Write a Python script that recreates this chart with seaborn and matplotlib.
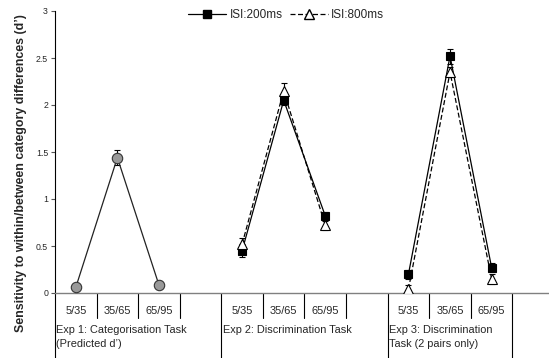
import pandas as pd
import seaborn as sns
import matplotlib.pyplot as plt
from matplotlib.lines import Line2D

# values
pairs = ['5/35', '35/65', '65/95']
group_labels = ['Exp 1: Categorisation Task\n(Predicted d\u2019)',
                'Exp 2: Discrimination Task',
                'Exp 3: Discrimination\nTask (2 pairs only)']

exp1_pred = [0.06, 1.44, 0.085]
exp1_err = [0.0, 0.08, 0.0]

exp2_isi200 = [0.45, 2.05, 0.82]
exp2_isi200_err = [0.07, 0.05, 0.04]
exp2_isi800 = [0.52, 2.15, 0.72]
exp2_isi800_err = [0.07, 0.08, 0.05]

exp3_isi200 = [0.20, 2.52, 0.27]
exp3_isi200_err = [0.05, 0.08, 0.05]
exp3_isi800 = [0.04, 2.35, 0.15]
exp3_isi800_err = [0.05, 0.05, 0.05]

rows = []
def add(group, series, vals, errs):
    for i, (v, e) in enumerate(zip(vals, errs)):
        rows.append({'group': group, 'series': series, 'pair': pairs[i],
                     'x': 4 * group + i + 0.5, 'd': v, 'err': e})

add(0, 'pred', exp1_pred, exp1_err)
add(1, 'ISI:200ms', exp2_isi200, exp2_isi200_err)
add(1, 'ISI:800ms', exp2_isi800, exp2_isi800_err)
add(2, 'ISI:200ms', exp3_isi200, exp3_isi200_err)
add(2, 'ISI:800ms', exp3_isi800, exp3_isi800_err)
df = pd.DataFrame(rows)

sns.set_style('ticks')
plt.rcParams['font.family'] = ['Liberation Sans', 'DejaVu Sans']

fig = plt.figure(figsize=(5.49, 3.58), dpi=100)
ax = fig.add_axes([55 / 549, 65 / 358, 494 / 549, 282 / 358])

styles = {
    'pred': dict(color='#222222', marker='o', markerfacecolor='#999999',
                 markeredgecolor='#333333', markersize=7.5, linestyle='-'),
    'ISI:200ms': dict(color='black', marker='s', markerfacecolor='black',
                      markeredgecolor='black', markersize=6, linestyle='-'),
    'ISI:800ms': dict(color='black', marker='^', markerfacecolor='white',
                      markeredgecolor='black', markersize=7, linestyle=(0, (4, 2))),
}

for (g, s), sub in df.groupby(['group', 'series'], sort=False):
    st = styles[s]
    ax.errorbar(sub['x'], sub['d'], yerr=sub['err'], fmt='none', ecolor='black',
                elinewidth=0.8, capsize=2.5, capthick=0.8, zorder=2)
    sns.lineplot(data=sub, x='x', y='d', ax=ax, estimator=None, sort=False,
                 color=st['color'], linewidth=0.9, zorder=3, legend=False,
                 marker=st['marker'], markersize=st['markersize'],
                 markerfacecolor=st['markerfacecolor'],
                 markeredgecolor=st['markeredgecolor'], markeredgewidth=0.8,
                 linestyle=st['linestyle'])

ax.set_xlim(0, 11.88)
ax.set_ylim(0, 3)
ax.set_yticks([0, 0.5, 1, 1.5, 2, 2.5, 3])
ax.set_yticklabels(['0', '0.5', '1', '1.5', '2', '2.5', '3'])
ax.tick_params(axis='y', labelsize=6.3, length=3, width=0.8, pad=2, color='#555555')
ax.set_xticks([])
ax.set_xlabel('')
ax.set_ylabel('Sensitivity to within/between category differences (d\u2019)',
              fontsize=8.9, fontweight='bold')
ax.yaxis.set_label_coords(-28 / 494, 0.425)

sns.despine(ax=ax, top=True, right=True)
ax.spines['left'].set_linewidth(0.8)
ax.spines['left'].set_color('black')
ax.spines['bottom'].set_linewidth(1.0)
ax.spines['bottom'].set_color('#808080')

# category dividers below the axis
tr = ax.get_xaxis_transform()
long_lines = [0, 4, 8, 11]
short_lines = [1, 2, 3, 5, 6, 7, 9, 10]
for xb in long_lines:
    ax.plot([xb, xb], [0, -0.2305], transform=tr, color='black', lw=0.8, clip_on=False)
for xb in short_lines:
    ax.plot([xb, xb], [0, -0.0887], transform=tr, color='black', lw=0.8, clip_on=False)

for g in range(3):
    for i, p in enumerate(pairs):
        ax.text(4 * g + i + 0.5, -0.064, p, transform=tr, ha='center', va='center',
                fontsize=7.9)
    ax.text(4 * g + 0.03, -0.115, group_labels[g], transform=tr, ha='left', va='top',
            fontsize=7.9, linespacing=1.4)

handles = [
    Line2D([], [], color='black', lw=0.9, marker='s', markersize=6,
           markerfacecolor='black', markeredgecolor='black'),
    Line2D([], [], color='black', lw=0.9, linestyle=(0, (4, 2)), marker='^',
           markersize=6.5, markerfacecolor='white', markeredgecolor='black'),
]
ax.legend(handles, ['ISI:200ms', 'ISI:800ms'], loc='center',
          bbox_to_anchor=(0.468, 0.986), ncol=2, frameon=False, fontsize=8.5,
          handlelength=3.2, handletextpad=0.3, columnspacing=0.6,
          borderaxespad=0)

fig.savefig('out.png', dpi=100)
